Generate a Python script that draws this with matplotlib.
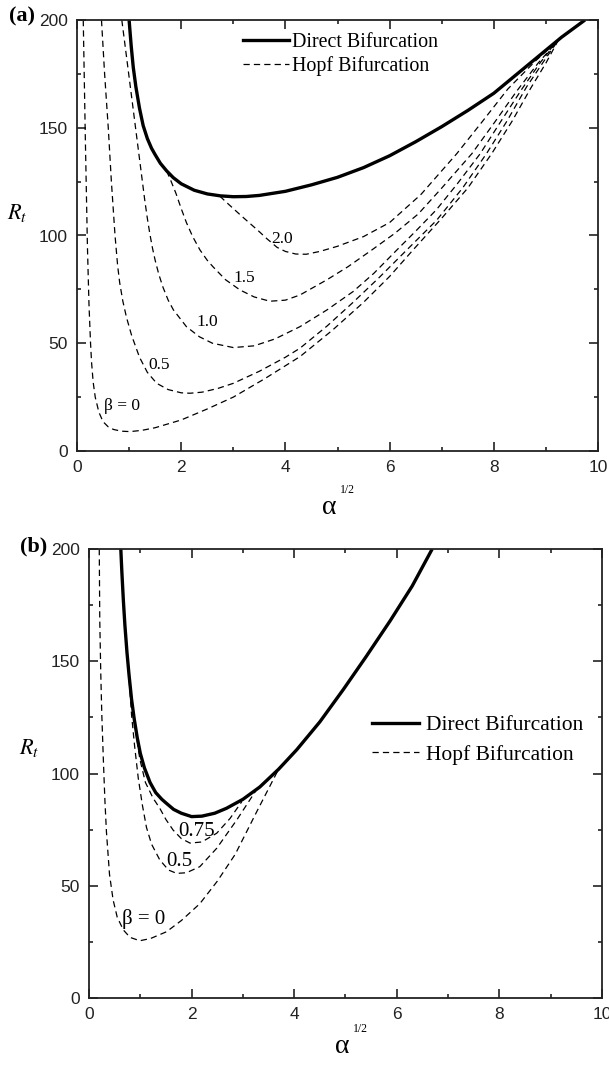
import matplotlib
matplotlib.use('Agg')
import matplotlib.pyplot as plt
from matplotlib.lines import Line2D

# ---------------- Panel (a) data ----------------
a_direct_x = [1.0, 1.04, 1.08, 1.13, 1.2, 1.27, 1.35, 1.43, 1.5, 1.6, 1.72, 1.85, 2.0, 2.25, 2.5, 2.75,
              3.0, 3.25, 3.5, 4.0, 4.5, 5.0, 5.5, 6.0, 6.5, 7.0, 7.5, 8.0, 8.5, 9.0, 9.3, 9.75]
a_direct_y = [200, 188, 178, 169, 159, 151, 145, 140.5, 137.5, 133.5, 130, 126.8, 124, 121, 119.3, 118.4,
              118, 118.1, 118.6, 120.5, 123.5, 127, 131.5, 137, 143.5, 150.5, 158, 166, 176, 186, 192, 200]

a_b20_x = [2.74, 2.85, 3.0, 3.16, 3.32, 3.48, 3.64, 3.84, 4.0, 4.2, 4.4, 4.66, 5.0, 5.5, 6.0, 6.6,
           7.29, 7.8, 8.27, 8.8, 9.24]
a_b20_y = [118.3, 115.8, 112.5, 109, 105.6, 102.2, 98.6, 94.5, 92.6, 91.4, 91.3, 92.6, 95, 99.5, 106, 119,
           138, 153.5, 168, 181, 190.7]

a_b15_x = [1.72, 1.8, 1.9, 2.0, 2.1, 2.22, 2.36, 2.5, 2.61, 2.85, 3.13, 3.4, 3.7, 4.0, 4.28, 4.8,
           5.2, 5.66, 6.1, 6.55, 7.0, 7.58, 8.0, 8.44, 8.85, 9.24]
a_b15_y = [130, 125.5, 119.5, 112.5, 106, 99.5, 93.3, 88.5, 85.5, 79.5, 74.7, 71.5, 69.5, 70, 72.4, 79.5,
           85.5, 93.3, 101, 110, 122, 138, 152, 167, 180, 190.7]

a_b10_x = [0.86, 0.95, 1.05, 1.15, 1.25, 1.3, 1.35, 1.4, 1.45, 1.5, 1.57, 1.65, 1.75, 1.85, 2.1, 2.35,
           2.6, 3.0, 3.4, 3.8, 4.28, 4.8, 5.3, 5.7, 6.14, 6.5, 6.9, 7.3, 7.74, 8.15, 8.54, 8.9, 9.24]
a_b10_y = [200, 183, 164, 145, 126, 116.5, 108, 100.5, 94, 88.5, 82, 76, 70, 65.5, 57.7, 53,
           50, 48, 48.8, 52, 57.7, 65.5, 74, 82.5, 93.3, 102, 112, 124, 138, 153.5, 168, 180.5, 190.7]

a_b05_x = [0.47, 0.53, 0.6, 0.66, 0.73, 0.78, 0.82, 0.88, 0.95, 1.05, 1.2, 1.35, 1.53, 1.75, 2.0, 2.17,
           2.4, 2.7, 3.0, 3.5, 4.0, 4.28, 4.8, 5.3, 5.8, 6.33, 6.9, 7.4, 7.86, 8.25, 8.63, 8.95, 9.24]
a_b05_y = [200, 175, 150, 125, 100, 86, 78, 69.5, 62, 53.5, 43.5, 36.5, 31.4, 28.5, 27, 26.8,
           27.3, 29, 31.4, 37, 43.5, 47.7, 58, 69, 80.5, 93.3, 107, 122, 138, 153, 169, 180.5, 190.7]

a_b00_x = [0.12, 0.16, 0.2, 0.23, 0.26, 0.28, 0.31, 0.35, 0.42, 0.5, 0.6, 0.7, 0.85, 1.02, 1.25, 1.5,
           2.0, 2.5, 3.0, 3.6, 4.28, 4.9, 5.5, 6.0, 6.45, 7.0, 7.5, 7.96, 8.35, 8.7, 9.0, 9.24]
a_b00_y = [200, 145, 95, 68, 50, 41, 32, 25, 18, 13.6, 11.2, 10, 9.2, 9, 9.6, 10.8,
           14.4, 19.5, 25, 33.5, 43.8, 56, 69, 81, 93.3, 108, 122, 138, 153, 168, 180, 190.7]

a_labels = ['2.0', '1.5', '1.0', '0.5', 'β = 0']
a_label_x = [3.94, 3.21, 2.5, 1.57, 0.86]
a_label_y = [98.4, 80.1, 59.9, 39.9, 21.0]

# ---------------- Panel (b) data ----------------
b_direct_x = [0.62, 0.64, 0.67, 0.7, 0.74, 0.78, 0.83, 0.88, 0.94, 1.0, 1.08, 1.19, 1.3, 1.42, 1.51,
              1.65, 1.8, 2.0, 2.2, 2.45, 2.68, 3.0, 3.33, 3.7, 4.05, 4.5, 4.96, 5.4, 5.87, 6.3, 6.69]
b_direct_y = [200, 190, 177, 166, 154, 144, 133, 124.5, 116, 109, 102.5, 96, 91.5, 88.5, 86.7,
              84, 82.3, 80.8, 81, 82.3, 84.5, 88.5, 94, 102, 110.6, 123, 137.5, 152, 168, 183.5, 200]

b_b075_x = [0.83, 0.9, 0.99, 1.1, 1.25, 1.38, 1.5, 1.64, 1.8, 1.97, 2.2, 2.49, 2.75, 2.98]
b_b075_y = [133, 121, 106.5, 96, 89, 84.5, 79.5, 74.8, 71, 69, 69.5, 73.4, 80, 87.5]

b_b05_x = [0.77, 0.83, 0.89, 0.96, 1.04, 1.12, 1.22, 1.38, 1.55, 1.71, 1.9, 2.16, 2.49, 2.88, 3.3]
b_b05_y = [146, 126, 112, 98, 86, 76, 68.5, 61.5, 57, 55.5, 55.8, 58.5, 66.7, 79.3, 94]

b_b00_x = [0.2, 0.21, 0.23, 0.25, 0.28, 0.31, 0.34, 0.4, 0.47, 0.55, 0.67, 0.8, 0.99, 1.2, 1.51,
           1.8, 2.16, 2.5, 2.85, 3.27, 3.72]
b_b00_y = [200, 168, 144, 126, 106, 88, 74, 55, 43.7, 36, 30.3, 27, 25.5, 26.5, 29.5,
           34.5, 42, 52, 64, 83, 103]

b_labels = ['0.75', '0.5', 'β = 0']
b_label_x = [2.1, 1.77, 1.06]
b_label_y = [74.2, 60.7, 35.2]

legend_labels = ['Direct Bifurcation', 'Hopf Bifurcation']

# ---------------- Figure ----------------
W, H = 609, 1066
fig = plt.figure(figsize=(W / 100, H / 100), dpi=100)
axA = fig.add_axes([77 / W, 1 - 451 / H, 521 / W, 431 / H])
axB = fig.add_axes([89 / W, 1 - 998 / H, 513 / W, 449 / H])

SERIF = 'Liberation Serif'
SANS = 'Liberation Sans'
DASH = (5, 3.3)
LW_D = 2.4
LW_H = 0.9


def style(ax):
    ax.set_xlim(0, 10)
    ax.set_ylim(0, 200)
    ax.set_xticks([0, 2, 4, 6, 8, 10])
    ax.set_xticks([1, 3, 5, 7, 9], minor=True)
    ax.set_yticks([0, 50, 100, 150, 200])
    ax.set_yticks([25, 75, 125, 175], minor=True)
    ax.tick_params(which='both', direction='in', top=True, right=True, width=1.2, color='#222222')
    ax.tick_params(which='major', length=6.5, pad=6.5, labelsize=12.5, labelcolor='#222222')
    ax.tick_params(which='minor', length=3.2)
    for s in ax.spines.values():
        s.set_linewidth(1.3)
        s.set_color('#222222')
    for lab in ax.get_xticklabels() + ax.get_yticklabels():
        lab.set_fontfamily(SANS)


for ax in (axA, axB):
    style(ax)

# Panel (a)
axA.plot(a_direct_x, a_direct_y, color='black', lw=LW_D, solid_capstyle='butt', solid_joinstyle='round')
for xs, ys in [(a_b20_x, a_b20_y), (a_b15_x, a_b15_y), (a_b10_x, a_b10_y),
               (a_b05_x, a_b05_y), (a_b00_x, a_b00_y)]:
    axA.plot(xs, ys, color='black', lw=LW_H, dashes=DASH)
for t, x, y in zip(a_labels, a_label_x, a_label_y):
    axA.text(x, y, t, ha='center', va='center', fontsize=12.5, family=SERIF)

# Panel (b)
axB.plot(b_direct_x, b_direct_y, color='black', lw=LW_D, solid_capstyle='butt', solid_joinstyle='round')
for xs, ys in [(b_b075_x, b_b075_y), (b_b05_x, b_b05_y), (b_b00_x, b_b00_y)]:
    axB.plot(xs, ys, color='black', lw=LW_H, dashes=DASH)
for t, x, y in zip(b_labels, b_label_x, b_label_y):
    axB.text(x, y, t, ha='center', va='center', fontsize=15, family=SERIF)

# Legends
handles = [Line2D([], [], color='black', lw=LW_D),
           Line2D([], [], color='black', lw=LW_H, dashes=DASH)]
axA.legend(handles, legend_labels, loc='upper left', bbox_to_anchor=(0.3186, 0.97),
           frameon=False, borderpad=0, borderaxespad=0, handlelength=2.3,
           handletextpad=0.15, labelspacing=0.2, prop={'family': SERIF, 'size': 14.4})
axB.legend(handles, legend_labels, loc='upper left', bbox_to_anchor=(0.5517, 0.63),
           frameon=False, borderpad=0, borderaxespad=0, handlelength=2.2,
           handletextpad=0.32, labelspacing=0.45, prop={'family': SERIF, 'size': 15.5})

# Axis labels
plt.rcParams['mathtext.fontset'] = 'stix'
axA.text(-0.114, 0.552, r'$R_t$', transform=axA.transAxes, ha='center', va='center', fontsize=16)
axB.text(-0.117, 0.557, r'$R_t$', transform=axB.transAxes, ha='center', va='center', fontsize=16)

axA.text(0.4846, -0.13, 'α', transform=axA.transAxes, ha='center', va='center', fontsize=20, family=SERIF)
axA.text(0.519, -0.0905, '1/2', transform=axA.transAxes, ha='center', va='center', fontsize=8.5, family=SERIF)
axB.text(0.494, -0.107, 'α', transform=axB.transAxes, ha='center', va='center', fontsize=20, family=SERIF)
axB.text(0.529, -0.069, '1/2', transform=axB.transAxes, ha='center', va='center', fontsize=8.5, family=SERIF)

# Panel letters
axA.text(-0.1056, 1.007, '(a)', transform=axA.transAxes, ha='center', va='center',
         fontsize=16, fontweight='bold', family=SERIF)
axB.text(-0.107, 1.0056, '(b)', transform=axB.transAxes, ha='center', va='center',
         fontsize=16, fontweight='bold', family=SERIF)

fig.savefig('out.png', dpi=100)
